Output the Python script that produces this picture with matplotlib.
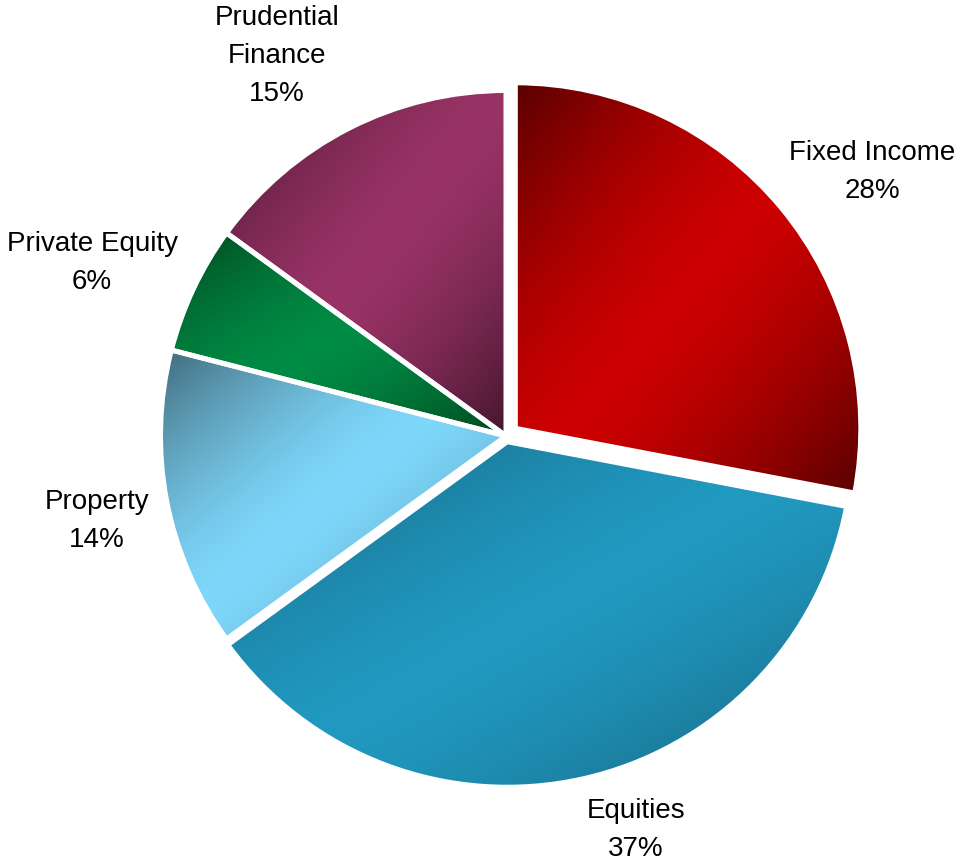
import numpy as np
import matplotlib
matplotlib.use("Agg")
import matplotlib.pyplot as plt
from matplotlib.colors import to_rgb

# ------------------------------------------
# DATA
# ------------------------------------------
categories = ["Fixed Income", "Equities", "Property", "Private Equity", "Prudential\nFinance"]
shares = [28, 37, 14, 6, 15]
explode = [0.035, 0.017, 0, 0, 0]

# (bright centre colour, dark edge colour) for each slice
bright_colors = ["#CC0000", "#2199C0", "#7ED8FB", "#008C45", "#993366"]
dark_colors = ["#580000", "#156079", "#41697A", "#00461D", "#44162E"]

# label anchor points, in pie-radius units
label_pos = [(1.060, 0.764), (0.376, -1.140), (-1.184, -0.246),
             (-1.198, 0.501), (-0.663, 1.100)]

# ------------------------------------------
# FIGURE
# ------------------------------------------
W, H = 959, 866
scale = 345.5          # pixels per unit radius
cx, cy = 506, 436      # pie centre in pixels (from top-left)

fig = plt.figure(figsize=(W / 100, H / 100), dpi=100)
ax = fig.add_axes([0, 0, 1, 1])

wedges, _ = ax.pie(shares, explode=explode, colors=bright_colors,
                   startangle=90, counterclock=False, radius=1,
                   wedgeprops=dict(edgecolor="white", linewidth=3.6))


def diagonal_shade(bright, dark, n=256, power=1.5):
    # dark -> bright -> dark along the top-left to bottom-right diagonal
    u = np.linspace(0, 1, n)
    xx, yy = np.meshgrid(u, u)
    t = (xx + yy) / 2
    f = 1 - np.abs(2 * t - 1) ** power
    b = np.array(to_rgb(bright))
    d = np.array(to_rgb(dark))
    return d + (b - d) * f[..., None]


for w, bc, dc in zip(wedges, bright_colors, dark_colors):
    ext = w.get_path().get_extents()
    img = diagonal_shade(bc, dc)
    im = ax.imshow(img, extent=(ext.x0, ext.x1, ext.y0, ext.y1),
                   origin="upper", interpolation="bilinear", zorder=2)
    im.set_clip_path(w)
    w.set_facecolor("none")
    w.set_zorder(3)

for name, pct, (lx, ly) in zip(categories, shares, label_pos):
    ax.text(lx, ly, f"{name}\n{pct}%", ha="center", va="center",
            multialignment="center", fontsize=20, family="Liberation Sans",
            linespacing=1.62, color="black", zorder=4)

ax.set_xlim(-cx / scale, (W - cx) / scale)
ax.set_ylim(-(H - cy) / scale, cy / scale)
ax.set_aspect("auto")
ax.axis("off")

fig.savefig("out.png", dpi=100)
